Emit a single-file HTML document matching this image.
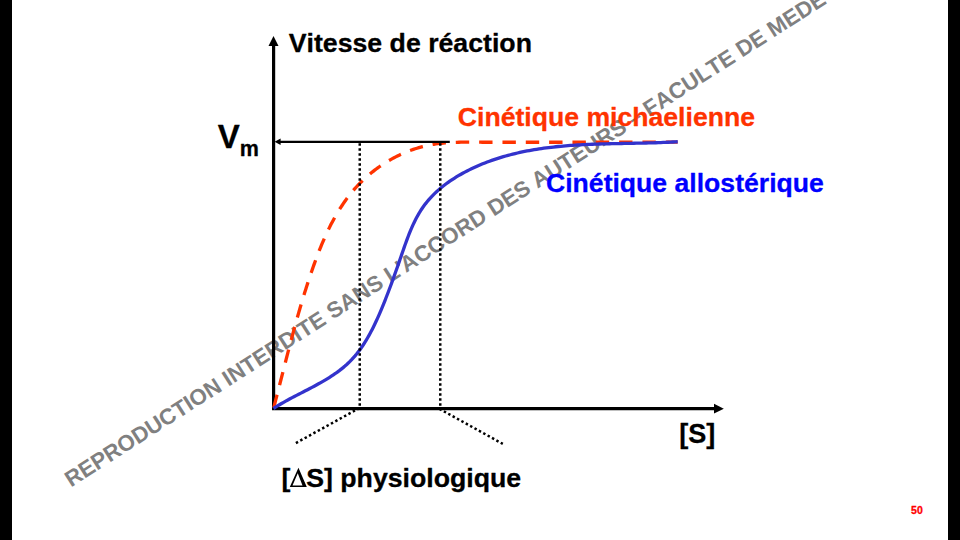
<!DOCTYPE html>
<html><head><meta charset="utf-8"><title>Slide 50</title>
<style>
html,body{margin:0;padding:0;background:#000;}
body{width:960px;height:540px;overflow:hidden;position:relative;font-family:"Liberation Sans",sans-serif;}
#slide{position:absolute;left:12px;top:0;width:936px;height:540px;background:#fff;overflow:hidden;}
svg{position:absolute;left:-12px;top:0;}
text{font-family:"Liberation Sans",sans-serif;font-weight:bold;font-kerning:none;}
.lb{stroke-width:0.3px;stroke-linejoin:round;}
</style></head><body>
<div id="slide">
<svg width="960" height="540" viewBox="0 0 960 540">
<!-- watermark -->
<text id="wm" transform="translate(72.2,486.7) rotate(-32.63)" x="-1.5" y="0" font-size="22.3" fill="#808080">REPRODUCTION INTERDITE SANS L'ACCORD DES AUTEURS – FACULTE DE MEDECINE</text>
<!-- axes -->
<path d="M273.6,45 L273.6,408.6 L715,408.6" fill="none" stroke="#000" stroke-width="3.2" stroke-linejoin="miter"/>
<path d="M273.5,36 L278.5,46 L268.5,46 Z" fill="#000"/>
<path d="M723.8,408.7 L714,403.8 L714,413.6 Z" fill="#000"/>
<!-- red curve -->
<path id="red" d="M273.50,408.50 L274.00,406.58 L274.51,404.67 L275.01,402.76 L275.50,400.85 L276.00,398.94 L276.49,397.04 L276.99,395.14 L277.48,393.24 L277.97,391.34 L278.45,389.45 L278.94,387.55 L279.42,385.66 L279.91,383.78 L280.39,381.89 L280.87,380.00 L281.35,378.12 L281.83,376.24 L282.31,374.36 L282.79,372.49 L283.27,370.61 L283.75,368.74 L284.23,366.87 L284.70,365.00 L285.18,363.13 L285.66,361.26 L286.14,359.39 L286.62,357.53 L287.10,355.67 L287.58,353.81 L288.06,351.95 L288.55,350.09 L289.03,348.23 L289.52,346.37 L290.00,344.52 L290.49,342.66 L290.98,340.81 L291.47,338.96 L291.97,337.11 L292.46,335.26 L292.96,333.41 L293.46,331.56 L293.96,329.71 L294.46,327.86 L294.97,326.02 L295.48,324.17 L295.99,322.33 L296.50,320.48 L297.02,318.64 L297.54,316.79 L298.06,314.95 L298.59,313.11 L299.12,311.26 L299.65,309.42 L300.19,307.58 L300.73,305.74 L301.28,303.89 L301.82,302.05 L302.38,300.21 L302.93,298.37 L303.50,296.53 L304.06,294.68 L304.63,292.84 L305.21,291.00 L305.79,289.16 L306.37,287.31 L306.96,285.47 L307.56,283.63 L308.16,281.78 L308.76,279.94 L309.38,278.09 L309.99,276.25 L310.62,274.40 L311.24,272.55 L311.88,270.71 L312.52,268.86 L313.17,267.01 L313.82,265.16 L314.48,263.32 L315.15,261.47 L315.83,259.63 L316.51,257.78 L317.20,255.94 L317.91,254.11 L318.62,252.27 L319.33,250.44 L320.06,248.61 L320.80,246.79 L321.55,244.97 L322.31,243.15 L323.08,241.34 L323.86,239.54 L324.65,237.74 L325.45,235.95 L326.27,234.17 L327.09,232.39 L327.93,230.62 L328.79,228.86 L329.65,227.10 L330.53,225.36 L331.42,223.62 L332.33,221.90 L333.25,220.18 L334.18,218.47 L335.13,216.77 L336.09,215.09 L337.07,213.41 L338.07,211.75 L339.08,210.10 L340.10,208.46 L341.15,206.83 L342.21,205.22 L343.28,203.62 L344.38,202.03 L345.49,200.46 L346.62,198.90 L347.77,197.36 L348.93,195.83 L350.12,194.32 L351.32,192.83 L352.55,191.35 L353.79,189.89 L355.05,188.44 L356.34,187.01 L357.64,185.61 L358.96,184.21 L360.30,182.84 L361.66,181.48 L363.04,180.15 L364.44,178.83 L365.85,177.53 L367.28,176.25 L368.73,175.00 L370.20,173.76 L371.68,172.54 L373.18,171.34 L374.69,170.16 L376.22,169.01 L377.77,167.87 L379.33,166.76 L380.91,165.66 L382.50,164.59 L384.11,163.55 L385.73,162.52 L387.36,161.52 L389.01,160.54 L390.67,159.58 L392.35,158.65 L394.04,157.74 L395.74,156.86 L397.45,156.00 L399.17,155.16 L400.91,154.35 L402.66,153.56 L404.42,152.80 L406.19,152.07 L407.97,151.36 L409.76,150.67 L411.56,150.02 L413.37,149.38 L415.19,148.78 L417.02,148.20 L418.86,147.65 L420.71,147.13 L422.56,146.64 L424.42,146.17 L426.30,145.73 L428.17,145.32 L430.06,144.94 L431.95,144.59 L433.85,144.27 L435.76,143.98 L437.67,143.71 L439.59,143.47 L441.51,143.25 L443.44,143.06 L445.37,142.89 L447.31,142.75 L449.25,142.62 L451.19,142.51 L453.13,142.42 L455.08,142.34 L457.02,142.28 L458.97,142.23 L460.92,142.19 L462.87,142.17 L464.82,142.15 L466.77,142.15 L468.72,142.15 L470.67,142.15 L472.61,142.16 L474.56,142.18 L476.50,142.19 L478.43,142.21 L480.37,142.22 L482.30,142.24 L484.22,142.25 L486.14,142.25 L488.05,142.25 L489.96,142.25 L677.6,142.2" fill="none" stroke="#FF3300" stroke-width="3.3" stroke-dasharray="13.4 9.93" stroke-dashoffset="-0.8"/>
<!-- Vm line -->
<path d="M279,141.9 L449.8,141.9" stroke="#000" stroke-width="2.3" fill="none"/>
<path d="M274.6,141.8 L280.6,138.5 L280.6,145.1 Z" fill="#000"/>
<!-- blue curve -->
<path id="blue" d="M273.50,408.50 L275.47,407.23 L277.47,405.97 L279.50,404.74 L281.55,403.53 L283.64,402.33 L285.74,401.15 L287.87,399.98 L290.01,398.82 L292.17,397.66 L294.35,396.52 L296.54,395.38 L298.74,394.24 L300.94,393.10 L303.15,391.96 L305.36,390.82 L307.58,389.68 L309.79,388.53 L312.00,387.36 L314.20,386.19 L316.39,385.01 L318.58,383.81 L320.75,382.60 L322.90,381.36 L325.04,380.11 L327.16,378.83 L329.25,377.54 L331.33,376.21 L333.37,374.86 L335.39,373.48 L337.37,372.06 L339.33,370.62 L341.24,369.14 L343.12,367.62 L344.96,366.06 L346.76,364.46 L348.51,362.82 L350.22,361.13 L351.88,359.40 L353.49,357.63 L355.07,355.82 L356.60,353.97 L358.09,352.08 L359.54,350.16 L360.96,348.21 L362.33,346.22 L363.68,344.21 L364.99,342.17 L366.26,340.10 L367.50,338.00 L368.72,335.89 L369.90,333.75 L371.06,331.59 L372.19,329.42 L373.30,327.23 L374.38,325.02 L375.44,322.80 L376.48,320.57 L377.49,318.33 L378.49,316.09 L379.48,313.83 L380.44,311.58 L381.39,309.32 L382.33,307.06 L383.25,304.80 L384.17,302.54 L385.07,300.28 L385.96,298.02 L386.84,295.76 L387.72,293.50 L388.58,291.24 L389.43,288.98 L390.28,286.71 L391.12,284.45 L391.96,282.18 L392.79,279.91 L393.61,277.63 L394.43,275.35 L395.24,273.07 L396.05,270.79 L396.86,268.50 L397.67,266.20 L398.47,263.90 L399.27,261.59 L400.07,259.28 L400.87,256.96 L401.67,254.64 L402.48,252.30 L403.29,249.97 L404.10,247.63 L404.92,245.30 L405.76,242.96 L406.60,240.63 L407.47,238.31 L408.35,236.00 L409.25,233.70 L410.18,231.41 L411.13,229.14 L412.11,226.88 L413.12,224.65 L414.16,222.43 L415.24,220.24 L416.36,218.08 L417.51,215.95 L418.71,213.84 L419.95,211.77 L421.24,209.74 L422.58,207.74 L423.97,205.78 L425.41,203.86 L426.90,201.97 L428.44,200.13 L430.03,198.33 L431.66,196.57 L433.34,194.84 L435.06,193.16 L436.83,191.50 L438.63,189.89 L440.47,188.31 L442.34,186.77 L444.25,185.27 L446.19,183.80 L448.16,182.37 L450.17,180.97 L452.20,179.60 L454.25,178.27 L456.33,176.97 L458.44,175.70 L460.56,174.47 L462.71,173.27 L464.87,172.10 L467.05,170.96 L469.24,169.85 L471.45,168.78 L473.67,167.73 L475.90,166.71 L478.13,165.72 L480.38,164.77 L482.64,163.84 L484.91,162.93 L487.19,162.06 L489.47,161.21 L491.77,160.39 L494.07,159.59 L496.38,158.82 L498.70,158.08 L501.02,157.36 L503.36,156.67 L505.70,156.00 L508.04,155.35 L510.39,154.73 L512.75,154.13 L515.11,153.55 L517.48,153.00 L519.86,152.46 L522.23,151.95 L524.62,151.46 L527.00,150.99 L529.39,150.54 L531.79,150.11 L534.19,149.69 L536.59,149.30 L538.99,148.92 L541.39,148.56 L543.80,148.22 L546.21,147.90 L548.63,147.59 L551.04,147.30 L553.46,147.02 L555.88,146.76 L558.30,146.51 L560.73,146.27 L563.15,146.05 L565.58,145.85 L568.01,145.65 L570.44,145.47 L572.87,145.29 L575.31,145.13 L577.74,144.98 L580.18,144.84 L582.62,144.71 L585.06,144.58 L587.50,144.47 L589.94,144.36 L592.38,144.26 L594.82,144.17 L597.27,144.09 L599.71,144.01 L602.15,143.93 L604.60,143.86 L607.05,143.80 L609.49,143.74 L611.94,143.68 L614.38,143.63 L616.83,143.58 L619.28,143.53 L621.72,143.48 L624.17,143.44 L626.61,143.39 L629.06,143.35 L631.50,143.30 L633.95,143.26 L636.39,143.21 L638.83,143.16 L641.28,143.11 L643.72,143.06 L646.16,143.00 L648.60,142.94 L651.03,142.87 L653.47,142.80 L655.91,142.73 L658.34,142.65 L660.77,142.56 L663.20,142.47 L665.63,142.37 L668.06,142.26 L670.49,142.15 L672.91,142.02 L675.33,141.89 L677.75,141.75" fill="none" stroke="#3333CC" stroke-width="3.3" stroke-linecap="butt"/>
<!-- dotted verticals -->
<path d="M359.75,143.3 L359.75,407 M440.25,143.3 L440.25,407" stroke="#000" stroke-width="2.5" stroke-dasharray="2.45 2.55" fill="none"/>
<path d="M359.35,408.1 L295.6,443.2 M439.5,408.9 L502.8,443.9" stroke="#000" stroke-width="2.5" stroke-dasharray="2.45 2.55" fill="none"/>
<!-- labels -->
<text x="288.7" y="51.8" font-size="26.7" fill="#000" stroke="#000" class="lb">Vitesse de réaction</text>
<text x="457.8" y="125.6" font-size="26.62" fill="#FF3300" stroke="#FF3300" class="lb">Cinétique michaelienne</text>
<text x="546.0" y="191.5" font-size="26.6" fill="#0000FF" stroke="#0000FF" class="lb">Cinétique allostérique</text>
<text x="217.8" y="148" font-size="33" fill="#000" stroke="#000" class="lb">V<tspan font-size="21.5" dy="7.7">m</tspan></text>
<text transform="translate(697.2,442.7) scale(0.955,1)" text-anchor="middle" x="0" y="0" font-size="28.4" fill="#000" stroke="#000" class="lb">[S]</text>
<text x="281.6" y="487.3" font-size="26.7" fill="#000" stroke="#000" class="lb">[</text>
<path d="M289.8,487.1 L298.45,467.8 L306.8,487.1 Z M292.5,485.4 L302.5,485.4 L297.75,473.2 Z" fill="#000" fill-rule="evenodd"/>
<text x="306.2" y="487.3" font-size="26.7" fill="#000" stroke="#000" class="lb">S] physiologique</text>
<text x="911.1" y="514.2" font-size="10.5" fill="#FF0000" stroke="#FF0000" class="lb">50</text>
</svg>
</div>
</body></html>
